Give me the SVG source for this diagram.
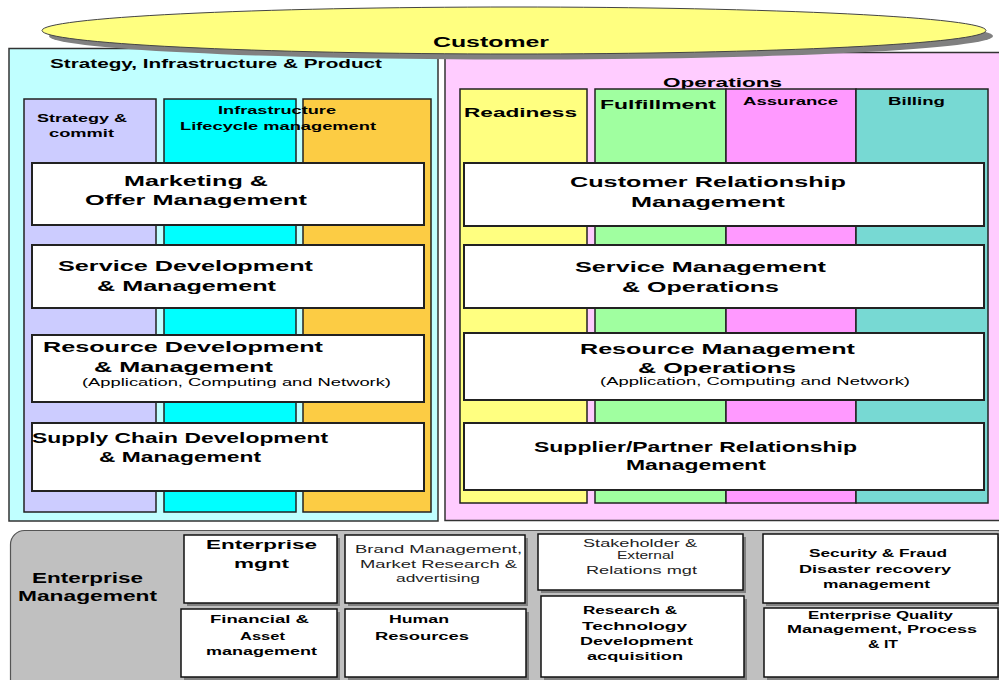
<svg xmlns="http://www.w3.org/2000/svg" width="999" height="680" viewBox="0 0 999 680">
<style>
text{font-family:"Liberation Sans",Arial,sans-serif;fill:#000}
.b{font-weight:bold}
.t16{font-size:15.5px;font-weight:bold}
.t14{font-size:14px;font-weight:bold}
.t13{font-size:13px;font-weight:bold}
.t12{font-size:12px;font-weight:bold}
.t11b{font-size:11px;font-weight:bold}
.t11n{font-size:11px;fill:#222}
.sub{font-size:11px}
.panel{stroke:#333;stroke-width:1.5}
.col{stroke:#222;stroke-width:1.5}
.box{fill:#fff;stroke:#222;stroke-width:2}
.ebox{fill:#fff;stroke:#111;stroke-width:1.5}
.shadow{fill:#808080}
</style>
<g id="left-panel">
<rect class="panel" x="9" y="48.5" width="429" height="472.5" fill="#C0FFFF"/>
<text class="t12" x="50" y="68" textLength="332" lengthAdjust="spacingAndGlyphs">Strategy, Infrastructure &amp; Product</text>
</g>
<g id="right-panel">
<rect class="panel" x="445" y="52.5" width="560" height="468" fill="#FFCCFF"/>
<text class="t13" x="663" y="87" textLength="119" lengthAdjust="spacingAndGlyphs">Operations</text>
</g>
<g id="col-strategy">
<rect class="col" x="24" y="99" width="132" height="413" fill="#CCCCFF"/>
<text class="t11b" x="37" y="122" textLength="90" lengthAdjust="spacingAndGlyphs">Strategy &amp;</text>
<text class="t11b" x="49" y="137" textLength="65" lengthAdjust="spacingAndGlyphs">commit</text>
</g>
<g id="col-infrastructure">
<rect class="col" x="164" y="99" width="132" height="413" fill="#00FFFF"/>
</g>
<g id="col-product">
<rect class="col" x="303" y="99" width="128" height="413" fill="#FCCC44"/>
</g>
<g id="label-infrastructure">
<text class="t11b" x="218" y="114" textLength="118" lengthAdjust="spacingAndGlyphs">Infrastructure</text>
<text class="t11b" x="180" y="130" textLength="196" lengthAdjust="spacingAndGlyphs">Lifecycle management</text>
</g>
<g id="col-readiness">
<rect class="col" x="460" y="89" width="127" height="414" fill="#FFFF80"/>
<text class="t12" x="464" y="117" textLength="113" lengthAdjust="spacingAndGlyphs">Readiness</text>
</g>
<g id="col-fulfillment">
<rect class="col" x="595" y="89" width="131" height="414" fill="#A0FFA0"/>
<text class="t12" x="600" y="109" textLength="116" lengthAdjust="spacingAndGlyphs">Fulfillment</text>
</g>
<g id="col-assurance">
<rect class="col" x="726" y="89" width="130" height="414" fill="#FF99FF"/>
<text class="t11b" x="743" y="105" textLength="95" lengthAdjust="spacingAndGlyphs">Assurance</text>
</g>
<g id="col-billing">
<rect class="col" x="856" y="89" width="132" height="414" fill="#77D9D3"/>
<text class="t11b" x="888" y="105" textLength="57" lengthAdjust="spacingAndGlyphs">Billing</text>
</g>
<g id="marketing">
<rect class="box" x="32" y="163" width="392" height="62"/>
<text class="t16" x="124" y="186" textLength="144" lengthAdjust="spacingAndGlyphs">Marketing &amp;</text>
<text class="t16" x="85" y="205" textLength="222" lengthAdjust="spacingAndGlyphs">Offer Management</text>
</g>
<g id="service-dev">
<rect class="box" x="32" y="245" width="392" height="63"/>
<text class="t16" x="58" y="271" textLength="255" lengthAdjust="spacingAndGlyphs">Service Development</text>
<text class="t16" x="97" y="291" textLength="179" lengthAdjust="spacingAndGlyphs">&amp; Management</text>
</g>
<g id="resource-dev">
<rect class="box" x="32" y="335" width="392" height="67"/>
<text class="t16" x="43" y="352" textLength="280" lengthAdjust="spacingAndGlyphs">Resource Development</text>
<text class="t16" x="94" y="372" textLength="179" lengthAdjust="spacingAndGlyphs">&amp; Management</text>
<text class="sub" x="82" y="386" textLength="309" lengthAdjust="spacingAndGlyphs">(Application, Computing and Network)</text>
</g>
<g id="supply-chain">
<rect class="box" x="32" y="423" width="392" height="68"/>
<text class="t16" x="32" y="443" textLength="296" lengthAdjust="spacingAndGlyphs">Supply Chain Development</text>
<text class="t16" x="99" y="462" textLength="162" lengthAdjust="spacingAndGlyphs">&amp; Management</text>
</g>
<g id="crm">
<rect class="box" x="464" y="163" width="520" height="63"/>
<text class="t16" x="570" y="187" textLength="276" lengthAdjust="spacingAndGlyphs">Customer Relationship</text>
<text class="t16" x="631" y="207" textLength="154" lengthAdjust="spacingAndGlyphs">Management</text>
</g>
<g id="service-mgmt">
<rect class="box" x="464" y="245" width="520" height="63"/>
<text class="t16" x="575" y="272" textLength="251" lengthAdjust="spacingAndGlyphs">Service Management</text>
<text class="t16" x="622" y="292" textLength="157" lengthAdjust="spacingAndGlyphs">&amp; Operations</text>
</g>
<g id="resource-mgmt">
<rect class="box" x="464" y="333" width="520" height="67"/>
<text class="t16" x="580" y="354" textLength="275" lengthAdjust="spacingAndGlyphs">Resource Management</text>
<text class="t16" x="638" y="373" textLength="158" lengthAdjust="spacingAndGlyphs">&amp; Operations</text>
<text class="sub" x="600" y="385" textLength="310" lengthAdjust="spacingAndGlyphs">(Application, Computing and Network)</text>
</g>
<g id="supplier-partner">
<rect class="box" x="464" y="423" width="520" height="67"/>
<text class="t16" x="534" y="452" textLength="323" lengthAdjust="spacingAndGlyphs">Supplier/Partner Relationship</text>
<text class="t16" x="626" y="470" textLength="140" lengthAdjust="spacingAndGlyphs">Management</text>
</g>
<g id="customer">
<ellipse class="shadow" cx="521" cy="36" rx="472" ry="23.5"/>
<ellipse cx="514" cy="30.5" rx="472" ry="23.5" fill="#FFFF80" stroke="#444" stroke-width="1"/>
<text class="t14" x="433" y="47" textLength="116" lengthAdjust="spacingAndGlyphs">Customer</text>
</g>
<g id="enterprise-management">
<rect x="10.5" y="530.5" width="1000" height="200" rx="14" fill="#C0C0C0" stroke="#555" stroke-width="1.2"/>
<text class="t14" x="32" y="583" textLength="111" lengthAdjust="spacingAndGlyphs">Enterprise</text>
<text class="t14" x="18" y="601" textLength="139" lengthAdjust="spacingAndGlyphs">Management</text>
</g>
<g id="enterprise-mgnt">
<rect class="shadow" x="187" y="538" width="153" height="68"/>
<rect class="ebox" x="184" y="535" width="153" height="68"/>
<text class="t13" x="206" y="549" textLength="111" lengthAdjust="spacingAndGlyphs">Enterprise</text>
<text class="t13" x="234" y="568" textLength="55" lengthAdjust="spacingAndGlyphs">mgnt</text>
</g>
<g id="brand">
<rect class="shadow" x="348" y="538" width="180" height="68"/>
<rect class="ebox" x="345" y="535" width="180" height="68"/>
<text class="t11n" x="355" y="553" textLength="167" lengthAdjust="spacingAndGlyphs">Brand Management,</text>
<text class="t11n" x="360" y="568" textLength="157" lengthAdjust="spacingAndGlyphs">Market Research &amp;</text>
<text class="t11n" x="396" y="582" textLength="84" lengthAdjust="spacingAndGlyphs">advertising</text>
</g>
<g id="financial">
<rect class="shadow" x="184" y="612" width="156" height="68"/>
<rect class="ebox" x="181" y="609" width="156" height="68"/>
<text class="t11b" x="210" y="623" textLength="99" lengthAdjust="spacingAndGlyphs">Financial &amp;</text>
<text class="t11b" x="240" y="640" textLength="45" lengthAdjust="spacingAndGlyphs">Asset</text>
<text class="t11b" x="206" y="655" textLength="111" lengthAdjust="spacingAndGlyphs">management</text>
</g>
<g id="human-resources">
<rect class="shadow" x="348" y="612" width="181" height="68"/>
<rect class="ebox" x="345" y="609" width="181" height="68"/>
<text class="t11b" x="389" y="623" textLength="60" lengthAdjust="spacingAndGlyphs">Human</text>
<text class="t11b" x="375" y="640" textLength="94" lengthAdjust="spacingAndGlyphs">Resources</text>
</g>
<g id="stakeholder">
<rect class="shadow" x="541" y="537" width="205" height="56"/>
<rect class="ebox" x="538" y="534" width="205" height="56"/>
<text class="t11n" x="583" y="547" textLength="114" lengthAdjust="spacingAndGlyphs">Stakeholder &amp;</text>
<text class="t11n" x="617" y="559" textLength="57" lengthAdjust="spacingAndGlyphs">External</text>
<text class="t11n" x="586" y="574" textLength="111" lengthAdjust="spacingAndGlyphs">Relations mgt</text>
</g>
<g id="research">
<rect class="shadow" x="544" y="599" width="203" height="81"/>
<rect class="ebox" x="541" y="596" width="203" height="81"/>
<text class="t11b" x="583" y="614" textLength="94" lengthAdjust="spacingAndGlyphs">Research &amp;</text>
<text class="t11b" x="582" y="630" textLength="105" lengthAdjust="spacingAndGlyphs">Technology</text>
<text class="t11b" x="580" y="645" textLength="113" lengthAdjust="spacingAndGlyphs">Development</text>
<text class="t11b" x="587" y="660" textLength="96" lengthAdjust="spacingAndGlyphs">acquisition</text>
</g>
<g id="security">
<rect class="shadow" x="766" y="537" width="235" height="69"/>
<rect class="ebox" x="763" y="534" width="235" height="69"/>
<text class="t11b" x="809" y="557" textLength="138" lengthAdjust="spacingAndGlyphs">Security &amp; Fraud</text>
<text class="t11b" x="799" y="573" textLength="152" lengthAdjust="spacingAndGlyphs">Disaster recovery</text>
<text class="t11b" x="823" y="588" textLength="107" lengthAdjust="spacingAndGlyphs">management</text>
</g>
<g id="quality">
<rect class="shadow" x="767" y="611" width="234" height="69"/>
<rect class="ebox" x="764" y="608" width="234" height="69"/>
<text class="t11b" x="808" y="619" textLength="145" lengthAdjust="spacingAndGlyphs">Enterprise Quality</text>
<text class="t11b" x="787" y="633" textLength="190" lengthAdjust="spacingAndGlyphs">Management, Process</text>
<text class="t11b" x="868" y="648" textLength="30" lengthAdjust="spacingAndGlyphs">&amp; IT</text>
</g>
<g id="connectors"/>
</svg>
